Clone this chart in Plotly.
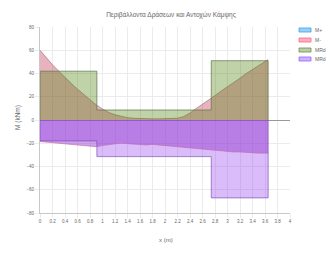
import plotly.graph_objects as go

# ---- data ----
x_m = [0, 0.1, 0.2, 0.3, 0.4, 0.5, 0.6, 0.7, 0.8, 0.9, 1.0, 1.1, 1.2, 1.3, 1.4, 1.5,
       1.6, 1.7, 1.8, 1.9, 2.0, 2.1, 2.2, 2.3, 2.4, 2.5, 2.6, 2.7, 2.8, 2.9, 3.0,
       3.1, 3.2, 3.3, 3.4, 3.5, 3.6, 3.65]
m_hog = [60, 53.5, 47.5, 42, 36.5, 31.5, 26.5, 22, 17.5, 13, 9.5, 6.5, 4.5, 3, 2, 1.5,
         1.2, 1, 1, 1, 1, 1.2, 1.5, 3, 6, 10, 13.5, 17, 21, 25, 28.5,
         32, 36, 40, 43.5, 47, 51, 52]
m_sag = [-18.5, -19, -19.5, -20, -20.5, -21, -21.5, -22, -22.5, -23, -22, -21, -20.5, -20, -20.5, -21,
         -21.5, -21.5, -21, -21.5, -22.5, -23, -23, -23.5, -24, -25, -25.5, -26, -26.5, -27, -27,
         -27.5, -27.5, -28, -28, -28.5, -28.5, -28.5]
rd_breaks = [0, 0.91, 2.74, 3.65]
mrd_pos = [42, 8.6, 51]
mrd_neg = [-18, -31.5, -67]
legend_labels = ["M+", "M-", "MRd+", "MRd-"]
title_text = "Περιβάλλοντα Δράσεων και Αντοχών Κάμψης"


def step_path(breaks, levels):
    xs, ys = [breaks[0]], [0]
    for i, lv in enumerate(levels):
        xs += [breaks[i], breaks[i + 1]]
        ys += [lv, lv]
    xs.append(breaks[-1])
    ys.append(0)
    return xs, ys


fig = go.Figure()
xs, ys = step_path(rd_breaks, mrd_neg)
fig.add_trace(go.Scatter(x=xs, y=ys, mode="lines", fill="tozeroy",
                         fillcolor="rgba(160,80,243,0.38)",
                         line=dict(color="rgba(120,80,180,0.85)", width=0.8),
                         showlegend=False, name=legend_labels[3]))
fig.add_trace(go.Scatter(x=x_m, y=m_hog, mode="lines", fill="tozeroy",
                         fillcolor="rgba(189,35,69,0.35)",
                         line=dict(color="rgba(150,110,110,0.8)", width=0.8),
                         showlegend=False, name=legend_labels[1]))
xs, ys = step_path(rd_breaks, mrd_pos)
fig.add_trace(go.Scatter(x=xs, y=ys, mode="lines", fill="tozeroy",
                         fillcolor="rgba(84,132,18,0.37)",
                         line=dict(color="rgba(95,115,75,0.9)", width=0.8),
                         showlegend=False, name=legend_labels[2]))
fig.add_trace(go.Scatter(x=x_m, y=m_sag, mode="lines", fill="tozeroy",
                         fillcolor="rgba(145,50,206,0.45)",
                         line=dict(color="rgba(190,110,170,0.8)", width=0.8),
                         showlegend=False, name=legend_labels[0]))

# page body margin offset (browser default 8px)
OFF = 8
W, H = 334 - OFF, 260 - OFF
# plot box in screen pixels
L, R, T, B = 40, 290, 27, 213
def px(x): return (x - L) / (R - L)
def py(y): return (B - y) / (B - T)

leg_fill = ["rgba(54,162,235,0.5)", "rgba(255,99,132,0.5)", "rgba(120,160,80,0.5)", "rgba(153,102,255,0.5)"]
leg_line = ["rgb(54,162,235)", "rgb(255,99,132)", "rgb(110,140,80)", "rgb(153,102,255)"]
rows = [30, 40, 50, 59]
shapes = []
annotations = []
for i, lab in enumerate(legend_labels):
    shapes.append(dict(type="rect", xref="paper", yref="paper",
                       x0=px(299), x1=px(311), y0=py(rows[i] + 2), y1=py(rows[i] - 2),
                       fillcolor=leg_fill[i], line=dict(color=leg_line[i], width=0.8)))
    annotations.append(dict(text=lab, xref="paper", yref="paper", x=px(313), y=py(rows[i]),
                            xanchor="left", yanchor="middle", showarrow=False,
                            font=dict(size=5, color="#666")))

annotations.append(dict(text="M (kNm)", xref="paper", yref="paper", x=px(18), y=py(118),
                        textangle=-90, showarrow=False, xanchor="center", yanchor="middle",
                        font=dict(size=6.5, color="#666")))
annotations.append(dict(text="x (m)", xref="paper", yref="paper", x=px(166), y=py(240),
                        showarrow=False, xanchor="center", yanchor="middle",
                        font=dict(size=6, color="#666")))

fig.update_layout(
    width=W, height=H, autosize=False,
    margin=dict(l=L - OFF, r=334 - R, t=T - OFF, b=260 - B, pad=0),
    paper_bgcolor="white", plot_bgcolor="white",
    font=dict(family="Liberation Sans, Arial, sans-serif", color="#666", size=5),
    title=dict(text=title_text, x=(171 - OFF) / W, xanchor="center", y=1 - (15 - OFF) / H,
               yanchor="middle", font=dict(size=6.5, color="#666")),
    shapes=shapes, annotations=annotations, showlegend=False,
)
fig.update_xaxes(range=[0, 4], dtick=0.2, tick0=0, showgrid=True, gridcolor="#ebebeb", gridwidth=1,
                 zeroline=False, showline=True, linecolor="#c8c8c8", linewidth=1,
                 ticks="outside", ticklen=4, tickcolor="#ebebeb",
                 tickfont=dict(size=4.5, color="#666"))
fig.update_yaxes(range=[-80, 80], dtick=20, tick0=0, showgrid=True, gridcolor="#ebebeb", gridwidth=1,
                 zeroline=True, zerolinecolor="#999", zerolinewidth=1,
                 showline=True, linecolor="#c8c8c8", linewidth=1,
                 ticks="outside", ticklen=4, tickcolor="#ebebeb",
                 tickfont=dict(size=4.5, color="#666"))

fig.write_html("out.html")
